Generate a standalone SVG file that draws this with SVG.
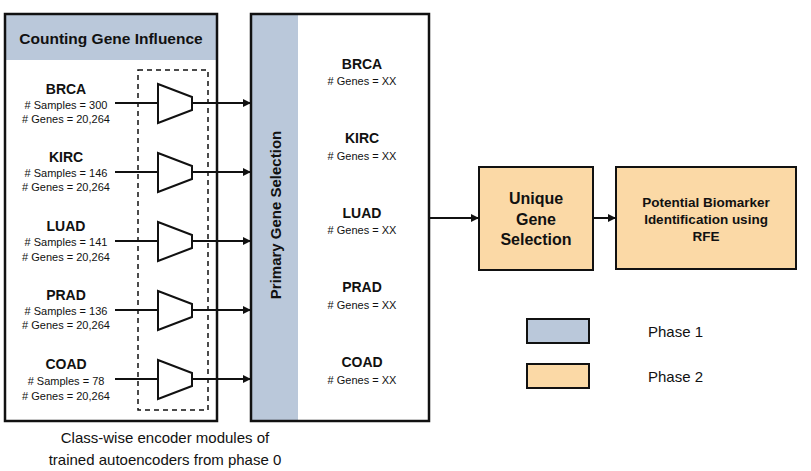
<svg xmlns="http://www.w3.org/2000/svg" width="811" height="471" viewBox="0 0 811 471">
<style>
text{font-family:"Liberation Sans",Arial,sans-serif;fill:#111}
.b{font-weight:bold;font-size:14px}
.s{font-size:11px}
.box{stroke:#111;stroke-width:2.5;fill:none}
.ln{stroke:#111;stroke-width:2;fill:none}
.tri{stroke:#111;stroke-width:2;fill:#fff}
.blue{fill:#bac8da}
.or{fill:#fbd9a6}
</style>
<defs><marker id="ah" markerWidth="8" markerHeight="8" refX="7" refY="4" orient="auto" markerUnits="userSpaceOnUse"><path d="M0,0 L8,4 L0,8 z" fill="#111"/></marker></defs>
<rect width="811" height="471" fill="#fff"/>
<g id="counting">
<rect x="5" y="14" width="212" height="46" class="blue"/>
<rect x="5" y="14" width="212" height="407" class="box"/>
<text x="111" y="44" text-anchor="middle" class="b" style="font-size:15.5px">Counting Gene Influence</text>
<g text-anchor="middle">
<text x="66" y="94" class="b">BRCA</text><text x="66" y="109" class="s"># Samples = 300</text><text x="66" y="123" class="s"># Genes = 20,264</text>
<text x="66" y="162" class="b">KIRC</text><text x="66" y="177" class="s"># Samples = 146</text><text x="66" y="191" class="s"># Genes = 20,264</text>
<text x="66" y="231" class="b">LUAD</text><text x="66" y="246" class="s"># Samples = 141</text><text x="66" y="261" class="s"># Genes = 20,264</text>
<text x="66" y="300" class="b">PRAD</text><text x="66" y="315" class="s"># Samples = 136</text><text x="66" y="329" class="s"># Genes = 20,264</text>
<text x="66" y="369" class="b">COAD</text><text x="66" y="385" class="s"># Samples = 78</text><text x="66" y="400" class="s"># Genes = 20,264</text>
</g>
</g>
<g id="encoders">
<rect x="138" y="70" width="70" height="340" fill="none" stroke="#111" stroke-width="1.5" stroke-dasharray="5,4"/>
<path class="tri" d="M158,84 L192,97 L192,110 L158,123 z"/>
<path class="tri" d="M158,153 L192,166 L192,179 L158,192 z"/>
<path class="tri" d="M158,222 L192,235 L192,248 L158,261 z"/>
<path class="tri" d="M158,291 L192,304 L192,317 L158,330 z"/>
<path class="tri" d="M158,360 L192,373 L192,386 L158,399 z"/>
</g>
<g id="primary">
<rect x="251" y="14" width="47" height="407" class="blue"/>
<rect x="251" y="14" width="178" height="407" class="box"/>
<text transform="translate(281,215) rotate(-90)" text-anchor="middle" class="b" style="font-size:15px">Primary Gene Selection</text>
<g text-anchor="middle">
<text x="362" y="69" class="b">BRCA</text><text x="362" y="85" class="s"># Genes = XX</text>
<text x="362" y="143" class="b">KIRC</text><text x="362" y="160" class="s"># Genes = XX</text>
<text x="362" y="218" class="b">LUAD</text><text x="362" y="234" class="s"># Genes = XX</text>
<text x="362" y="292" class="b">PRAD</text><text x="362" y="309" class="s"># Genes = XX</text>
<text x="362" y="367" class="b">COAD</text><text x="362" y="384" class="s"># Genes = XX</text>
</g>
</g>
<g id="unique">
<rect x="479" y="167" width="114" height="103" class="or" stroke="#111" stroke-width="2"/>
<text x="536" y="204" text-anchor="middle" class="b" style="font-size:16px">Unique</text>
<text x="536" y="225" text-anchor="middle" class="b" style="font-size:16px">Gene</text>
<text x="536" y="245" text-anchor="middle" class="b" style="font-size:16px">Selection</text>
</g>
<g id="rfe">
<rect x="616" y="167" width="180" height="102" class="or" stroke="#111" stroke-width="2"/>
<text x="706" y="207" text-anchor="middle" class="b" style="font-size:13.5px">Potential Biomarker</text>
<text x="706" y="224" text-anchor="middle" class="b" style="font-size:13.5px">Identification using</text>
<text x="706" y="241" text-anchor="middle" class="b" style="font-size:13.5px">RFE</text>
</g>
<g id="legend">
<rect x="527" y="319" width="62" height="24" class="blue" stroke="#111" stroke-width="2"/>
<rect x="527" y="364" width="62" height="24" class="or" stroke="#111" stroke-width="2"/>
<text x="648" y="337" style="font-size:15px">Phase 1</text>
<text x="648" y="382" style="font-size:15px">Phase 2</text>
</g>
<g id="caption" text-anchor="middle">
<text x="165" y="443" style="font-size:15px">Class-wise encoder modules of</text>
<text x="165" y="465" style="font-size:15px">trained autoencoders from phase 0</text>
</g>
<g id="connectors">
<path class="ln" d="M115,103 H158 M115,172 H158 M115,241 H158 M115,310 H158 M115,379 H158"/>
<path class="ln" marker-end="url(#ah)" d="M192,103 H250"/>
<path class="ln" marker-end="url(#ah)" d="M192,172 H250"/>
<path class="ln" marker-end="url(#ah)" d="M192,241 H250"/>
<path class="ln" marker-end="url(#ah)" d="M192,310 H250"/>
<path class="ln" marker-end="url(#ah)" d="M192,379 H250"/>
<path class="ln" marker-end="url(#ah)" d="M429,218 H478"/>
<path class="ln" marker-end="url(#ah)" d="M593,218 H615"/>
</g>
</svg>
